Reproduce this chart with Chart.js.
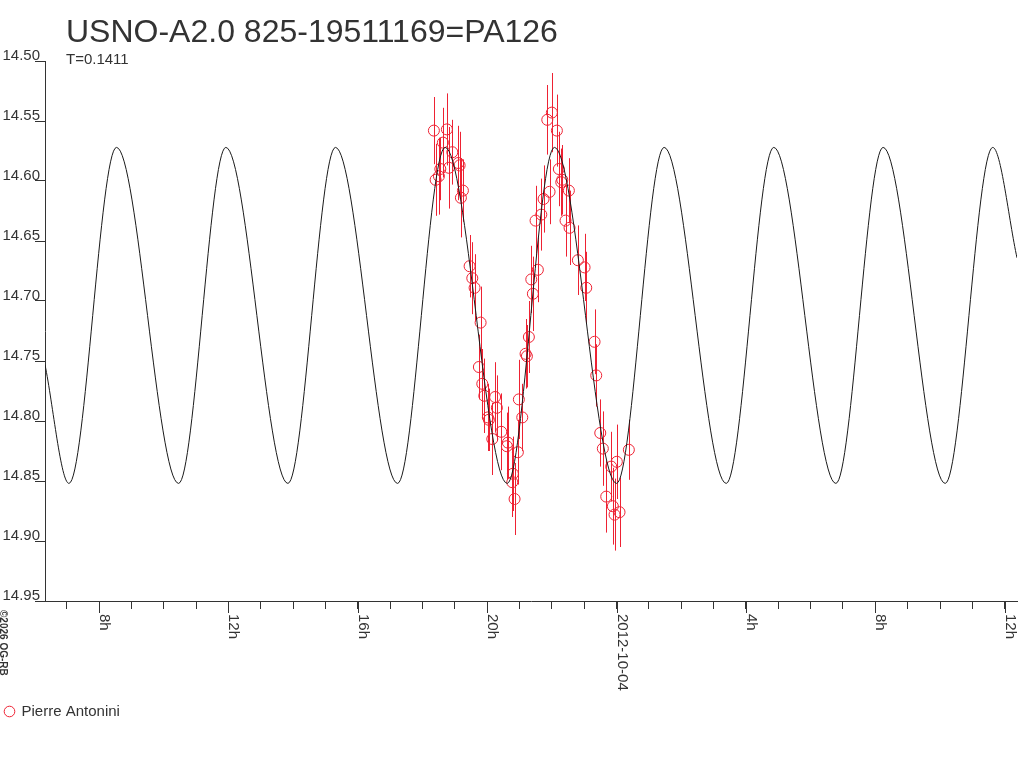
<!DOCTYPE html>
<html>
<head>
<meta charset="utf-8">
<script src="https://cdn.jsdelivr.net/npm/chart.js@4"></script>
<style>
html,body{margin:0;padding:0;background:#fff;}
#wrap{width:1024px;height:768px;position:relative;}
</style>
</head>
<body>
<div id="wrap"><canvas id="c" width="1024" height="768"></canvas></div>
<script>
// ---- texts ----
const titleText = 'USNO-A2.0 825-19511169=PA126';
const periodText = 'T=0.1411';
const copyrightText = '\u00A92026 OG-RB';
const observerName = 'Pierre Antonini';

// ---- axis ranges (hours from 2012-10-03 00:00 UT) ----
const xMinH = 6.33;
const xMaxH = 36.38;
const yTickValues = [14.50, 14.55, 14.60, 14.65, 14.70, 14.75, 14.80, 14.85, 14.90, 14.95];
const xMinorTickHours = [7,8,9,10,11,12,13,14,15,16,17,18,19,20,21,22,23,24,25,26,27,28,29,30,31,32,33,34,35,36];
const xMajorTickHours = [8, 12, 16, 20, 24, 28, 32, 36];
const xMajorTickLabels = ['8h', '12h', '16h', '20h', '2012-10-04', '4h', '8h', '12h'];

// ---- model light curve (turning points) ----
const curveTimesH = [6.33, 7.07, 8.54, 10.46, 11.92, 13.84, 15.31, 17.23, 18.70, 20.62,
                     22.08, 24.00, 25.47, 27.39, 28.86, 30.78, 32.24, 34.16, 35.63, 36.38];
const curveMags   = [14.753, 14.852, 14.572, 14.852, 14.572, 14.852, 14.572, 14.852, 14.572, 14.852,
                     14.572, 14.852, 14.572, 14.852, 14.572, 14.852, 14.572, 14.852, 14.572, 14.664];

// ---- observations (Pierre Antonini) ----
const obsTimesH = [18.353, 18.406, 18.508, 18.551, 18.631, 18.755, 18.817, 18.922, 19.107, 19.148,
                   19.188, 19.250, 19.457, 19.540, 19.611, 19.744, 19.797, 19.849, 19.911, 20.022,
                   20.053, 20.158, 20.245, 20.300, 20.436, 20.609, 20.640, 20.776, 20.795, 20.847,
                   20.949, 20.980, 21.085, 21.187, 21.228, 21.289, 21.364, 21.413, 21.496, 21.567,
                   21.673, 21.744, 21.858, 21.929, 22.000, 22.155, 22.216, 22.291, 22.322, 22.423,
                   22.526, 22.547, 22.804, 23.011, 23.063, 23.320, 23.372, 23.496, 23.576, 23.681,
                   23.836, 23.885, 23.938, 24.009, 24.092, 24.380];
const obsMags = [14.558, 14.599, 14.596, 14.590, 14.568, 14.557, 14.589, 14.576, 14.585, 14.587,
                 14.614, 14.608, 14.671, 14.681, 14.689, 14.755, 14.718, 14.769, 14.779, 14.797,
                 14.799, 14.815, 14.780, 14.789, 14.809, 14.821, 14.818, 14.851, 14.844, 14.865,
                 14.826, 14.782, 14.797, 14.744, 14.746, 14.730, 14.682, 14.694, 14.633, 14.674,
                 14.628, 14.615, 14.549, 14.609, 14.543, 14.558, 14.590, 14.601, 14.599, 14.633,
                 14.608, 14.639, 14.666, 14.672, 14.689, 14.734, 14.762, 14.810, 14.823, 14.863,
                 14.838, 14.871, 14.878, 14.834, 14.876, 14.824];
const obsErrs = [0.028, 0.030, 0.032, 0.026, 0.029, 0.030, 0.034, 0.027, 0.031, 0.028,
                 0.033, 0.026, 0.026, 0.030, 0.028, 0.027, 0.030, 0.029, 0.031, 0.028,
                 0.026, 0.030, 0.029, 0.027, 0.032, 0.028, 0.030, 0.029, 0.031, 0.030,
                 0.027, 0.033, 0.028, 0.029, 0.026, 0.030, 0.028, 0.031, 0.029, 0.027,
                 0.030, 0.028, 0.029, 0.027, 0.033, 0.030, 0.031, 0.028, 0.029, 0.030,
                 0.027, 0.031, 0.029, 0.028, 0.030, 0.027, 0.026, 0.028, 0.031, 0.030,
                 0.029, 0.032, 0.030, 0.031, 0.029, 0.025];

const FONT = "'Liberation Sans', Arial, Helvetica, sans-serif";
const TEXT = '#333333';
const AXIS = '#333333';
const RED = '#ee2233';

Chart.defaults.font.family = FONT;
Chart.defaults.color = TEXT;

const errorBars = {
  id: 'errorBars',
  beforeDatasetsDraw(chart) {
    const {ctx, scales: {x, y}} = chart;
    ctx.save();
    ctx.strokeStyle = RED;
    ctx.lineWidth = 1;
    obsTimesH.forEach((t, i) => {
      const px = Math.round(x.getPixelForValue(t)) + 0.5;
      ctx.beginPath();
      ctx.moveTo(px, y.getPixelForValue(obsMags[i] - obsErrs[i]));
      ctx.lineTo(px, y.getPixelForValue(obsMags[i] + obsErrs[i]));
      ctx.stroke();
    });
    ctx.restore();
  }
};

const decorations = {
  id: 'decorations',
  afterDraw(chart) {
    const {ctx, scales: {x}} = chart;
    const base = chart.chartArea.bottom;
    ctx.save();
    // longer major ticks
    ctx.strokeStyle = AXIS;
    ctx.lineWidth = 1;
    xMajorTickHours.forEach(h => {
      const px = Math.round(x.getPixelForValue(h)) + 0.5;
      ctx.beginPath();
      ctx.moveTo(px, base);
      ctx.lineTo(px, base + 12);
      ctx.stroke();
    });
    // rotated x labels (reading top to bottom)
    ctx.fillStyle = TEXT;
    ctx.font = '15px ' + FONT;
    ctx.textAlign = 'left';
    ctx.textBaseline = 'alphabetic';
    xMajorTickHours.forEach((h, i) => {
      const px = x.getPixelForValue(h);
      ctx.save();
      ctx.translate(px, base + 13);
      ctx.rotate(Math.PI / 2);
      ctx.fillText(xMajorTickLabels[i], 0, -1);
      ctx.restore();
    });
    // title
    ctx.font = '32px ' + FONT;
    ctx.fillText(titleText, 66, 42);
    ctx.font = '15px ' + FONT;
    ctx.fillText(periodText, 66, 64);
    // copyright
    ctx.save();
    ctx.translate(0, 610);
    ctx.rotate(Math.PI / 2);
    ctx.font = 'bold 10px ' + FONT;
    ctx.fillText(copyrightText, 0, 0);
    ctx.restore();
    ctx.restore();
  }
};

new Chart(document.getElementById('c'), {
  type: 'scatter',
  data: {
    datasets: [
      {
        label: 'model',
        data: curveTimesH.map((t, i) => ({x: t, y: curveMags[i]})),
        showLine: true,
        cubicInterpolationMode: 'monotone',
        borderColor: '#1a1a1a',
        borderWidth: 1,
        pointRadius: 0,
        fill: false
      },
      {
        label: observerName,
        data: obsTimesH.map((t, i) => ({x: t, y: obsMags[i]})),
        showLine: false,
        pointStyle: 'circle',
        pointRadius: 5.5,
        borderColor: RED,
        backgroundColor: 'rgba(0,0,0,0)',
        borderWidth: 1
      }
    ]
  },
  options: {
    responsive: false,
    devicePixelRatio: 1,
    animation: false,
    layout: {padding: {left: 0, right: 7, top: 61, bottom: 39}},
    scales: {
      x: {
        type: 'linear',
        min: xMinH,
        max: xMaxH,
        afterBuildTicks: s => { s.ticks = xMinorTickHours.map(v => ({value: v})); },
        afterFit: s => { s.height = 98; },
        ticks: {display: false},
        grid: {display: true, drawOnChartArea: false, drawTicks: true, tickLength: 8, color: AXIS, lineWidth: 1},
        border: {display: true, color: AXIS, width: 1}
      },
      y: {
        type: 'linear',
        reverse: true,
        min: 14.50,
        max: 14.95,
        afterBuildTicks: s => { s.ticks = yTickValues.map(v => ({value: v})); },
        afterFit: s => { s.width = 45; },
        ticks: {
          callback: v => Number(v).toFixed(2),
          font: {size: 15},
          color: TEXT,
          padding: -5,
          labelOffset: -5
        },
        grid: {display: true, drawOnChartArea: false, drawTicks: true, tickLength: 10, color: AXIS, lineWidth: 1},
        border: {display: true, color: AXIS, width: 1}
      }
    },
    plugins: {
      title: {display: false},
      tooltip: {enabled: false},
      legend: {
        display: true,
        position: 'bottom',
        align: 'start',
        labels: {
          usePointStyle: true,
          boxWidth: 9,
          boxHeight: 7.5,
          padding: 5,
          font: {size: 15},
          color: TEXT,
          filter: item => item.datasetIndex === 1
        }
      }
    }
  },
  plugins: [errorBars, decorations]
});
</script>
</body>
</html>
